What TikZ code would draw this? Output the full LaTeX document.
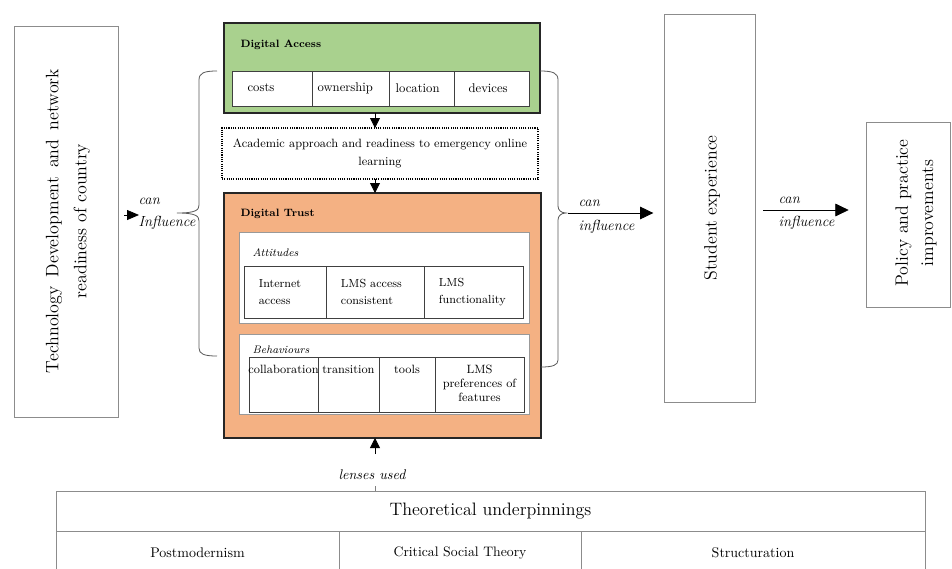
\documentclass[tikz,border=0pt]{standalone}
\usetikzlibrary{arrows.meta}
\definecolor{accgreen}{HTML}{A9D18E}
\definecolor{accorange}{HTML}{F4B183}
\definecolor{boxgray}{HTML}{8C8C8C}
\newcommand\myfs[2]{\fontsize{#1}{#2}\selectfont}
\newcommand\bx[7]{\node[#6, minimum width={(#4-#2)*0.75pt}, minimum height={(#5-#3)*0.75pt}] (#1) at ({(#2+#4)/2},{(#3+#5)/2}) {#7};}
\begin{document}
\begin{tikzpicture}[x=0.75pt,y=-0.75pt,
  plainbox/.style={draw=boxgray, line width=0.6pt, inner sep=0pt, outer sep=0pt},
  mainbox/.style={draw=black!85, line width=1.3pt, inner sep=0pt, outer sep=0pt},
  grp/.style={draw=black!40, line width=0.6pt, fill=white, inner sep=0pt, outer sep=0pt},
  cell/.style={draw=black!75, line width=0.6pt, fill=white, inner sep=0pt, outer sep=0pt},
  dotbox/.style={draw=black, line width=0.8pt, dash pattern=on 0.8pt off 0.9pt, fill=white, inner sep=0pt, outer sep=0pt},
  arrs/.style={-{Triangle[length=7.5pt,width=7.5pt]}, line width=0.6pt},
  arrb/.style={-{Triangle[length=10pt,width=9.5pt]}, line width=0.6pt},
  brace/.style={draw=black!65, line width=0.6pt},
  txt/.style={inner sep=1pt},
  celltxt/.style={txt, font=\myfs{8.8}{12.75}},
  dacell/.style={txt, font=\myfs{9.5}{12}},
  bcell/.style={txt, font=\myfs{9}{10.5}},
  ttl/.style={txt, anchor=west, font=\bfseries\myfs{8}{10}},
  sub/.style={txt, anchor=west, font=\itshape\myfs{8.2}{10}},
  inf/.style={txt, anchor=west, font=\itshape\myfs{11}{12}},
]
\useasboundingbox (0,0) rectangle (952,568);
\fill[white] (0,0) rectangle (952,568);

% left box
\bx{tech}{14}{26}{118}{417}{plainbox}{}
\node[txt, rotate=90, align=center, font=\myfs{13.5}{21}] at (68,221) {\makebox[228pt][s]{Technology Development and network}\\readiness of country};

% Digital Access
\bx{da}{224}{23}{540}{113}{mainbox, fill=accgreen}{}
\node[ttl] (dat) at (239,45) {Digital Access};
\bx{da1}{232}{71}{312}{106}{cell}{}
\bx{da2}{312}{71}{389}{106}{cell}{}
\bx{da3}{389}{71}{454}{106}{cell}{}
\bx{da4}{454}{71}{529}{106}{cell}{}
\node[dacell, anchor=west] at (246,88) {costs};
\node[dacell, anchor=west] at (316,88) {ownership};
\node[dacell, anchor=west] at (394,88) {location};
\node[dacell, anchor=west] at (467,88) {devices};

% academic approach
\bx{acad}{222}{128}{538}{179}{dotbox}{}
\node[txt, align=center, font=\myfs{9}{13.5}] at (acad.center) {Academic approach and readiness to emergency online\\learning};

% Digital Trust
\bx{dt}{224}{193}{541}{438}{mainbox, fill=accorange}{}
\node[ttl] (dtt) at (239,214) {Digital Trust};
\bx{att}{239}{232}{529}{323}{grp}{}
\node[sub] at (251,253) {Attitudes};
\bx{a1}{244}{266}{326}{318}{cell}{}
\bx{a2}{326}{266}{424}{318}{cell}{}
\bx{a3}{424}{266}{523}{318}{cell}{}
\node[celltxt, anchor=west, align=left] at ([xshift=10pt]a1.west) {Internet\\access};
\node[celltxt, anchor=west, align=left] at ([xshift=10pt]a2.west) {LMS access\\consistent};
\node[celltxt, anchor=west, align=left] at ([xshift=10pt]a3.west) {LMS\\functionality};

\bx{beh}{239}{334}{529}{414}{grp}{}
\node[sub] at (251,350) {Behaviours};
\bx{b1}{249}{357}{318}{412}{cell}{}
\bx{b2}{318}{357}{379}{412}{cell}{}
\bx{b3}{379}{357}{435}{412}{cell}{}
\bx{b4}{435}{357}{524}{412}{cell}{}
\node[bcell, anchor=north] at ([yshift=-5pt]b1.north) {collaboration};
\node[bcell, anchor=north] at ([yshift=-5pt]b2.north) {transition};
\node[bcell, anchor=north] at ([yshift=-5pt]b3.north) {tools};
\node[bcell, anchor=north, align=center] at ([yshift=-5pt]b4.north) {LMS\\preferences of\\features};

% vertical arrows
\coordinate (ax) at (375,0);
\draw[arrs] (da.south -| ax) -- (acad.north -| ax);
\draw[arrs] (acad.south -| ax) -- (dt.north -| ax);

% braces
\coordinate (ltip) at (177,213);
\draw[brace] (217,71) .. controls (204,71) and (199,73) .. (199,80) -- (199,205)
  .. controls (199,210) and (196,213) .. (ltip)
  .. controls (196,213) and (199,216) .. (199,221) -- (199,348)
  .. controls (199,354) and (204,356) .. (217,356);
\coordinate (rtip) at (566,213);
\draw[brace] (540,71) .. controls (553,71) and (558,73) .. (558,80) -- (558,206)
  .. controls (558,210) and (561,213) .. (rtip)
  .. controls (561,213) and (558,216) .. (558,220) -- (558,360)
  .. controls (558,365) and (553,367) .. (541,367);

% left arrow
\coordinate (la0) at (124,215);
\coordinate (la1) at (139,215);
\draw[line width=0.6pt, -{Triangle[length=9pt,width=7.5pt]}] (la0) -- (la1);
\node[inf] at (137,201) {can};
\node[inf] at (137,223) {Influence};

% student experience
\bx{stud}{664}{14}{755}{402}{plainbox}{}
\node[txt, rotate=90, font=\myfs{13.4}{15}] at (712,208) {Student experience};
\coordinate (r1) at (568,213);
\draw[arrb] (r1) -- ([xshift=-8pt]stud.west |- r1);
\node[inf] at (577,203) {can};
\node[inf] at (577,227) {influence};

% policy
\bx{pol}{866}{122}{950}{307}{plainbox}{}
\node[txt, rotate=90, align=center, font=\myfs{13.4}{19}] at (916,213) {Policy and practice\\improvements};
\coordinate (r2) at (763,210);
\draw[arrb] (r2) -- ([xshift=-13pt]pol.west |- r2);
\node[inf] at (777,200) {can};
\node[inf] at (777,223) {influence};

% theory
\bx{theo}{56}{491}{925}{531}{plainbox}{}
\node[txt, font=\myfs{13.5}{15}] at (theo.center) {Theoretical underpinnings};
\bx{t1}{56}{531}{339}{580}{plainbox}{}
\bx{t2}{339}{531}{581}{580}{plainbox}{}
\bx{t3}{581}{531}{925}{580}{plainbox}{}
\node[txt, font=\myfs{10.5}{12}] at (t1 |- 0,553) {Postmodernism};
\node[txt, font=\myfs{10.3}{12}] at (t2 |- 0,553) {Critical Social Theory};
\node[txt, font=\myfs{10.5}{12}] at (t3 |- 0,553) {Structuration};

\node[txt, font=\itshape\myfs{10.5}{12}] (lens) at (372,475) {lenses used};
\coordinate (lb) at (375,454);
\draw[arrs] (lb) -- (dt.south -| ax);
\coordinate (lt) at (375,486);
\draw[line width=0.5pt, draw=black!50] (lt) -- (theo.north -| ax);
\end{tikzpicture}
\end{document}
